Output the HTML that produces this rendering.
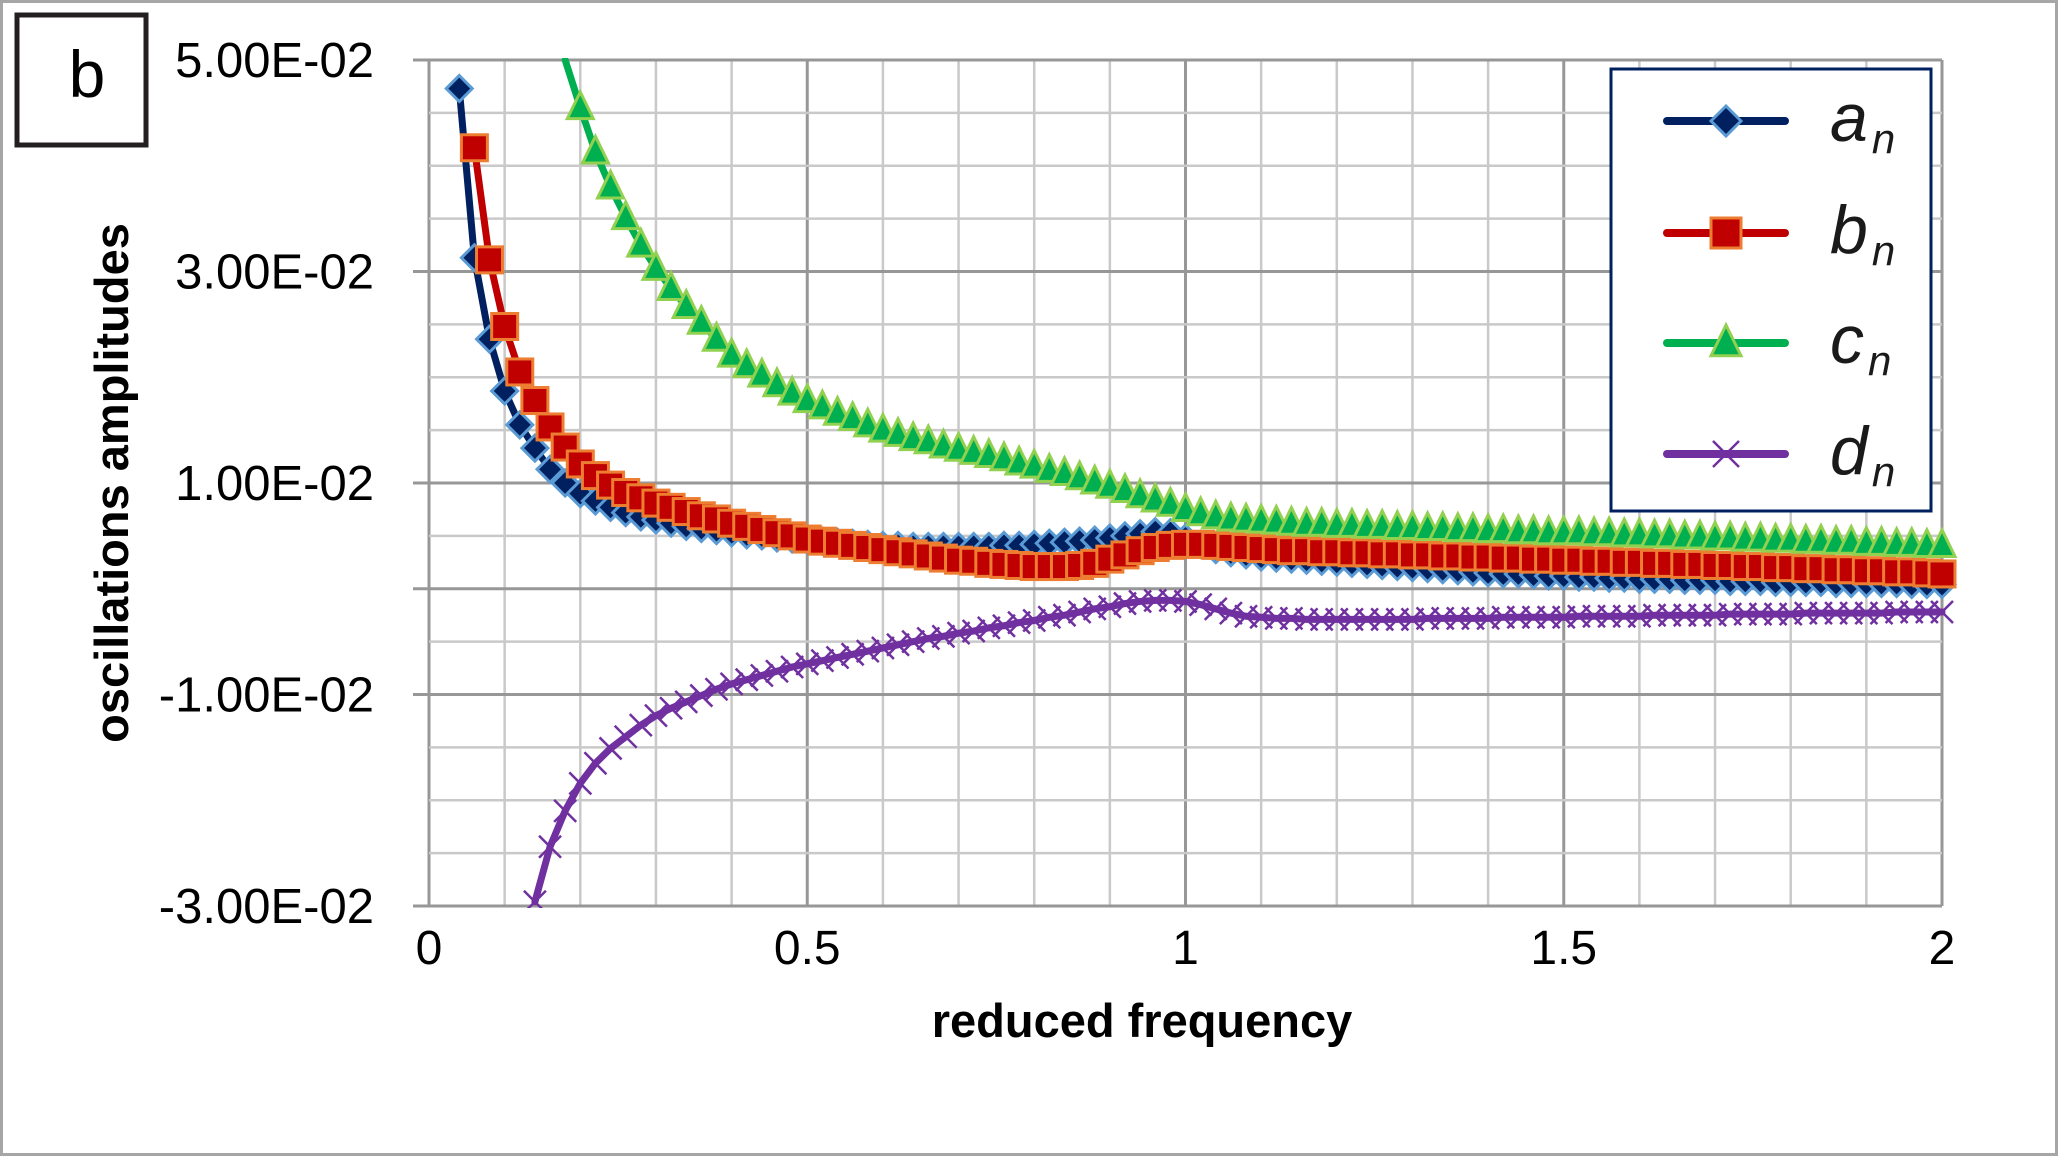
<!DOCTYPE html>
<html><head><meta charset="utf-8"><style>
html,body{margin:0;padding:0;background:#fff;}
svg{display:block;font-family:"Liberation Sans",sans-serif;}
</style></head><body>
<svg id="chart" width="2058" height="1156" viewBox="0 0 2058 1156" xmlns="http://www.w3.org/2000/svg">
<rect x="1.5" y="1.5" width="2055" height="1153" fill="#fff" stroke="#a6a6a6" stroke-width="3"/>
<g id="grid"></g>
<g id="axes"></g>
<g id="series"></g>
<rect x="17" y="15" width="129" height="130" fill="#fff" stroke="#231f20" stroke-width="5"/>
<text x="87" y="97" font-size="66" text-anchor="middle" fill="#000">b</text>
<text transform="translate(128,483) rotate(-90)" font-size="47" font-weight="bold" text-anchor="middle" fill="#000">oscillations amplitudes</text>
<text x="1142" y="1037" font-size="47" font-weight="bold" text-anchor="middle" fill="#000">reduced frequency</text>
<g id="legend">
<rect x="1611" y="69" width="320" height="442" fill="#fff" stroke="#002060" stroke-width="3"/>
</g>
</svg>
<script>
const xStartA = 0.04, xStartB = 0.06, xStartC = 0.18, xStartD = 0.14;
const xStep = 0.02;
const seriesA = [.0473,.0313,.0236,.0187,.0155,.0133,.0113,.0100,.0090,.0083,
.0077,.0072,.0068,.0065,.0062,.0059,.0057,.0055,.0053,.0051,
.0050,.0048,.0047,.0046,.0045,.0044,.0043,.0042,.0041,.0041,
.0040,.0040,.0040,.0040,.0040,.0040,.0041,.0041,.0042,.0043,
.0044,.0045,.0046,.0048,.0050,.0052,.0054,.0053,.0048,.0042,
.0037,.0034,.0032,.0030,
.0029,.0028,.0027,.0026,.0025,.0024,.0023,.0022,.0021,.0020,
.0019,.0018,.0017,.0016,.0015,.0014,.0014,.0013,.0012,.0012,
.0011,.0011,.0010,.0010,.0009,.0009,.0009,.0008,.0008,.0008,
.0007,.0007,.0007,.0006,.0006,.0006,.0006,.0005,.0005,.0005,
.0005,.0005,.0004,.0004,.0004];
const seriesB = [.0417,.0311,.0248,.0205,.0178,.0153,.0134,.0118,.0107,
.0098,.0091,.0086,.0081,.0077,.0073,.0069,.0066,.0062,.0059,
.0056,.0053,.0050,.0047,.0045,.0043,.0041,.0039,.0037,.0035,
.0033,.0031,.0029,.0027,.0026,.0024,.0023,.0022,.0021,.0021,
.0021,.0022,.0024,.0028,.0032,.0036,.0039,.0041,.0042,.0042,
.0041,.0040,.0039,.0038,
.0037,.0036,.0036,.0035,.0035,.0034,.0034,.0033,.0033,.0032,
.0032,.0031,.0031,.0030,.0030,.0029,.0029,.0028,.0028,.0027,
.0027,.0026,.0026,.0025,.0025,.0024,.0024,.0023,.0023,.0022,
.0022,.0021,.0021,.0020,.0020,.0019,.0019,.0018,.0018,.0017,
.0017,.0016,.0016,.0015,.0014];
const seriesC = [.0500,.0455,.0413,.0380,.0351,.0325,.0303,.0284,.0267,.0252,.0236,
.0221,.0211,.0202,.0193,.0185,.0178,.0172,.0166,.0161,.0155,
.0150,.0146,.0142,.0139,.0135,.0132,.0129,.0126,.0123,.0119,
.0116,.0112,.0109,.0105,.0101,.0097,.0093,.0088,.0084,.0080,
.0075,.0071,.0068,.0066,.0065,.0064,
.0063,.0062,.0061,.0061,.0060,.0060,.0059,.0059,.0058,.0058,
.0057,.0057,.0056,.0056,.0055,.0055,.0054,.0054,.0053,.0053,
.0053,.0052,.0052,.0051,.0051,.0050,.0050,.0049,.0049,.0048,
.0048,.0047,.0047,.0046,.0046,.0045,.0045,.0044,.0044,.0043,
.0043,.0042,.0042,.0041,.0041];
const seriesD = [-.0296,-.0244,-.0210,-.0184,-.0165,-.0151,-.0140,-.0129,-.0120,
-.0113,-.0107,-.0101,-.0095,-.0090,-.0086,-.0082,-.0078,-.0074,-.0071,
-.0068,-.0065,-.0062,-.0059,-.0056,-.0053,-.0050,-.0047,-.0045,-.0042,
-.0040,-.0037,-.0035,-.0032,-.0030,-.0027,-.0025,-.0022,-.0019,-.0017,
-.0014,-.0012,-.0011,-.0011,-.0012,-.0015,-.0019,-.0023,-.0026,-.0027,
-.0028,-.0028,-.0029,-.0029,-.0029,-.0029,-.0029,-.0029,-.0029,-.0029,
-.0028,-.0028,-.0028,-.0028,-.0028,-.0027,-.0027,-.0027,-.0027,-.0027,
-.0026,-.0026,-.0026,-.0026,-.0026,-.0025,-.0025,-.0025,-.0025,-.0025,
-.0024,-.0024,-.0024,-.0024,-.0024,-.0023,-.0023,-.0023,-.0023,-.0023,
-.0023,-.0022,-.0022,-.0022,-.0022];
const yTickValues = [0.05, 0.03, 0.01, -0.01, -0.03];
const yTickLabels = ["5.00E-02","3.00E-02","1.00E-02","-1.00E-02","-3.00E-02"];
const xTickValues = [0, 0.5, 1, 1.5, 2];
const xTickLabels = ["0","0.5","1","1.5","2"];
const legendLabels = ["a","b","c","d"];

const NS = "http://www.w3.org/2000/svg";
const X0 = 429, X1 = 1942, Y0 = 60, Y1 = 906;
const xMin = 0, xMax = 2, yMin = -0.03, yMax = 0.05;
const xs = v => X0 + (v - xMin) / (xMax - xMin) * (X1 - X0);
const ys = v => Y1 - (v - yMin) / (yMax - yMin) * (Y1 - Y0);
function mk(tag, attrs, parent) {
  const e = document.createElementNS(NS, tag);
  for (const k in attrs) e.setAttribute(k, attrs[k]);
  parent.appendChild(e);
  return e;
}
const grid = document.getElementById('grid');
for (let i = 0; i <= 20; i++) {
  const v = i * 0.1;
  const major = i % 5 === 0;
  const l = mk('line', {x1: xs(v), x2: xs(v), y1: Y0, y2: Y1, stroke: major ? '#979797' : '#c9c9c9', 'stroke-width': major ? 3 : 2.5}, grid);
  
  
}
for (let i = 0; i <= 16; i++) {
  const v = yMin + i * 0.005;
  const major = (i % 4 === 0) || i === 6;
  const l = mk('line', {x1: X0 - 16, x2: X1, y1: ys(v), y2: ys(v), stroke: major ? '#979797' : '#c9c9c9', 'stroke-width': major ? 3 : 2.5}, grid);
  if (!major) l.setAttribute('x1', X0);
  
  
}
const axes = document.getElementById('axes');
yTickValues.forEach((v, i) => {
  const t = mk('text', {x: 374, y: ys(v) + 17, 'font-size': 49, 'text-anchor': 'end', fill: '#000'}, axes);
  t.textContent = yTickLabels[i];
  
  
});
xTickValues.forEach((v, i) => {
  const t = mk('text', {x: xs(v), y: 964, 'font-size': 48, 'text-anchor': 'middle', fill: '#000'}, axes);
  t.textContent = xTickLabels[i];
  
  
});

const sg = document.getElementById('series');
const clip = mk('clipPath', {id: 'pc'}, mk('defs', {}, sg));
mk('rect', {x: X0 - 30, y: Y0 - 2, width: X1 - X0 + 60, height: Y1 - Y0 + 4}, clip);

function marker(type, cx, cy, color, edge, g, s) {
  let m;
  if (type === 'diamond') {
    m = mk('polygon', {points: `${cx},${cy - s} ${cx + s},${cy} ${cx},${cy + s} ${cx - s},${cy}`, fill: color, stroke: edge, 'stroke-width': 3}, g);
  } else if (type === 'square') {
    m = mk('rect', {x: cx - s, y: cy - s, width: 2 * s, height: 2 * s, fill: color, stroke: edge, 'stroke-width': 3}, g);
  } else if (type === 'triangle') {
    m = mk('polygon', {points: `${cx},${cy - s * 1.2} ${cx + s},${cy + s * 0.85} ${cx - s},${cy + s * 0.85}`, fill: color, stroke: edge, 'stroke-width': 3}, g);
  } else {
    m = mk('path', {d: `M${cx - s},${cy - s}L${cx + s},${cy + s}M${cx - s},${cy + s}L${cx + s},${cy - s}`, stroke: color, 'stroke-width': 2.5, fill: 'none'}, g);
  }
  return m;
}
const defs = [
  {vals: seriesA, start: xStartA, line: '#002060', mfill: '#002060', medge: '#5b9bd5', type: 'diamond', size: 13, name: 'series-a'},
  {vals: seriesB, start: xStartB, line: '#c00000', mfill: '#c00000', medge: '#ed7d31', type: 'square', size: 13, name: 'series-b'},
  {vals: seriesC, start: xStartC, line: '#00b050', mfill: '#00b050', medge: '#92d050', type: 'triangle', size: 13, name: 'series-c'},
  {vals: seriesD, start: xStartD, line: '#7030a0', mfill: '#7030a0', medge: '#7030a0', type: 'x', size: 11, name: 'series-d'}
];
defs.forEach(d => {
  const g = mk('g', {'clip-path': 'url(#pc)'}, sg);
  
  
  const pts = d.vals.map((v, i) => [xs(d.start + i * xStep), ys(v)]);
  let path = 'M' + pts[0][0] + ',' + pts[0][1];
  for (let i = 1; i < pts.length; i++) path += 'L' + pts[i][0] + ',' + pts[i][1];
  const p = mk('path', {d: path, fill: 'none', stroke: d.line, 'stroke-width': 7, 'stroke-linejoin': 'round', 'stroke-linecap': 'round'}, g);
  
  
  d.vals.forEach((v, i) => {
    if (v >= 0.0495) return;
    const m = marker(d.type, pts[i][0], pts[i][1], d.mfill, d.medge, g, d.size);
    
    
  });
});

const lg = document.getElementById('legend');
const legendY = [121, 233, 343, 454];
defs.forEach((d, i) => {
  const y = legendY[i];
  const e = mk('g', {}, lg);
  
  
  mk('line', {x1: 1667, x2: 1785, y1: y, y2: y, stroke: d.line, 'stroke-width': 8, 'stroke-linecap': 'round'}, e);
  marker(d.type, 1726, y, d.mfill, d.medge, e, d.size + 2);
  const t = mk('text', {x: 1830, y: y + 20, 'font-size': 68, 'font-style': 'italic', fill: '#1a1a1a'}, e);
  t.textContent = legendLabels[i];
  const s = mk('tspan', {'font-size': 42, dy: 12, dx: 4}, t);
  s.textContent = 'n';
});
</script>
</body></html>
